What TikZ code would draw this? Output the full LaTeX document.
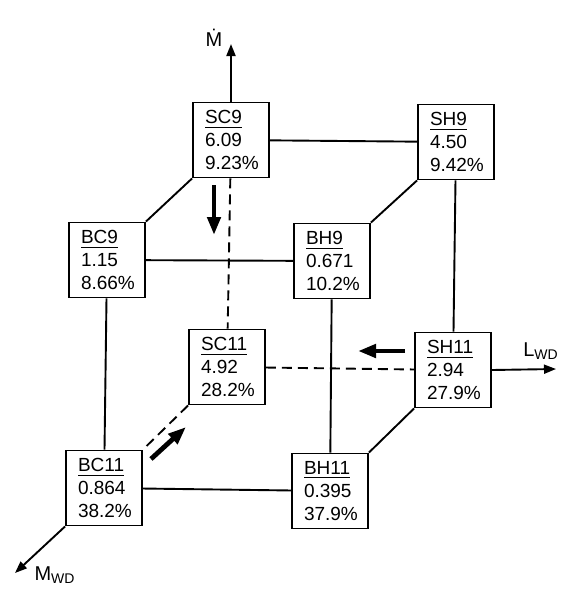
\documentclass[tikz,border=0pt]{standalone}
\usepackage{fontspec}
\setmainfont{Liberation Sans}
\usetikzlibrary{positioning, arrows.meta}

\begin{document}
\begin{tikzpicture}[x=0.5pt, y=-0.5pt, line width=0.95pt,
    cell/.style = {draw, align=left, text width=26pt, inner xsep=6pt, inner ysep=3pt,
                   minimum height=37.5pt, font=\fontsize{9.5}{11.3}\selectfont},
    gap/.style = {dash pattern=on 5pt off 3pt},
    outarrow/.style = {-{Triangle[length=6pt, width=4.5pt]}},
    flow/.style = {-{Triangle[length=9pt, width=6.5pt]}, line width=2.4pt},
    tag/.style = {font=\fontsize{10}{11}\selectfont, inner sep=0pt}]
    \useasboundingbox (0,0) rectangle (573,590);
    % top face
    \node[cell] (sc9) at (231,140) {\underline{SC9}\\6.09\\9.23\%};
    \node[cell] (sh9) at (456,142) {\underline{SH9}\\4.50\\9.42\%};
    \node[cell] (bc9) at (107,260) {\underline{BC9}\\1.15\\8.66\%};
    \node[cell] (bh9) at (332,261) {\underline{BH9}\\0.671\\10.2\%};
    % bottom face
    \node[cell] (sc11) at (227,367) {\underline{SC11}\\4.92\\28.2\%};
    \node[cell] (sh11) at (453,370) {\underline{SH11}\\2.94\\27.9\%};
    \node[cell] (bc11) at (104,488) {\underline{BC11}\\0.864\\38.2\%};
    \node[cell] (bh11) at (330,491) {\underline{BH11}\\0.395\\37.9\%};

    \draw (sc9) -- (sh9);
    \draw (bc9) -- (bh9);
    \draw (bc11) -- (bh11);
    \draw (bc9) -- (bc11);
    \draw (bh9) -- (bh11);
    \draw (sh9) -- (sh11);
    \draw (sc9.south west) -- (bc9.north east);
    \draw (sh9.south west) -- (bh9.north east);
    \draw (sh11.south west) -- (bh11.north east);
    \draw[gap] (sc9) -- (sc11);
    \draw[gap] (sc11) -- (sh11);
    \draw[gap] (sc11.south west) -- (bc11.north east);

    % outputs
    \coordinate (mtip) at (231,44);
    \coordinate (ltip) at (556,369);
    \coordinate (wtip) at (15,573);
    \node[tag] (mdot) at (214,38) {\.{M}};
    \node[tag] (lwd) at (541,351) {L\textsubscript{WD}};
    \node[tag] (mwd) at (55,575) {M\textsubscript{WD}};
    \draw[outarrow] (sc9.north) -- (mtip);
    \draw[outarrow] (sh11.east) -- (ltip);
    \draw[outarrow] (bc11.south west) -- (wtip);

    % flow directions
    \draw[flow] (214,185) -- (214,235);
    \draw[flow] (405,351) -- (358,351);
    \draw[flow] (151,459) -- (186,427);
\end{tikzpicture}
\end{document}
